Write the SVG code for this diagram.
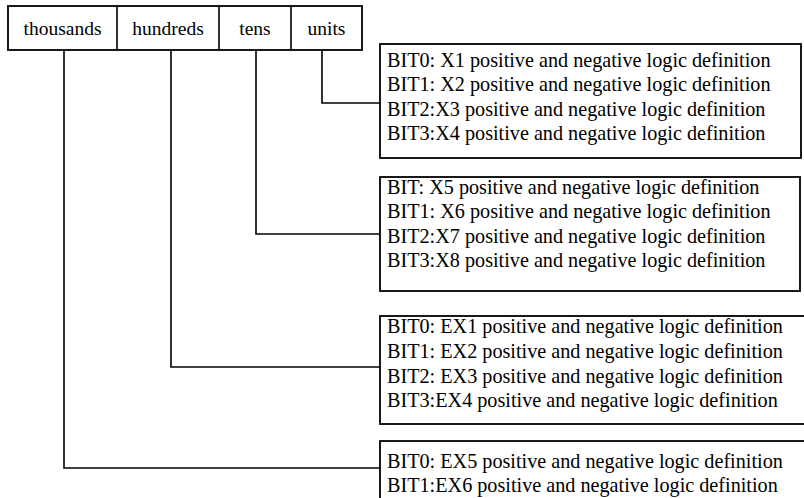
<svg xmlns="http://www.w3.org/2000/svg" width="804" height="498" viewBox="0 0 804 498">
<style>
.box{fill:#fff;stroke:#000;stroke-width:1.8}
.ln{fill:none;stroke:#000;stroke-width:1.6}
text{font-family:"Liberation Serif","Times New Roman",serif;font-size:20.2px;fill:#000}
.h{text-anchor:middle;font-size:19.5px}
</style>
<rect width="804" height="498" fill="#fff"/>
<g id="connectors">
<polyline class="ln" points="64,50 64,468 380,468"/>
<polyline class="ln" points="171,50 171,367 380,367"/>
<polyline class="ln" points="256,50 256,234 380,234"/>
<polyline class="ln" points="322,50 322,103 380,103"/>
</g>
<g id="header">
<rect class="box" x="8" y="6" width="354" height="44"/>
<line class="ln" x1="117" y1="6" x2="117" y2="50"/>
<line class="ln" x1="219" y1="6" x2="219" y2="50"/>
<line class="ln" x1="291" y1="6" x2="291" y2="50"/>
<text class="h" x="62.5" y="35">thousands</text>
<text class="h" x="168" y="35">hundreds</text>
<text class="h" x="255" y="35">tens</text>
<text class="h" x="326.5" y="35">units</text>
</g>
<g id="units-box">
<rect class="box" x="380" y="44" width="421" height="114"/>
<text x="387" y="67">BIT0: X1 positive and negative logic definition</text>
<text x="387" y="91">BIT1: X2 positive and negative logic definition</text>
<text x="387" y="116">BIT2:X3 positive and negative logic definition</text>
<text x="387" y="140">BIT3:X4 positive and negative logic definition</text>
</g>
<g id="tens-box">
<rect class="box" x="380" y="177" width="420" height="114"/>
<text x="387" y="194">BIT: X5 positive and negative logic definition</text>
<text x="387" y="218">BIT1: X6 positive and negative logic definition</text>
<text x="387" y="243">BIT2:X7 positive and negative logic definition</text>
<text x="387" y="267">BIT3:X8 positive and negative logic definition</text>
</g>
<g id="hundreds-box">
<rect class="box" x="380" y="316" width="440" height="108"/>
<text x="387" y="333">BIT0: EX1 positive and negative logic definition</text>
<text x="387" y="358">BIT1: EX2 positive and negative logic definition</text>
<text x="387" y="383">BIT2: EX3 positive and negative logic definition</text>
<text x="387" y="407">BIT3:EX4 positive and negative logic definition</text>
</g>
<g id="thousands-box">
<rect class="box" x="380" y="441" width="440" height="80"/>
<text x="387" y="468">BIT0: EX5 positive and negative logic definition</text>
<text x="387" y="492">BIT1:EX6 positive and negative logic definition</text>
</g>
</svg>
